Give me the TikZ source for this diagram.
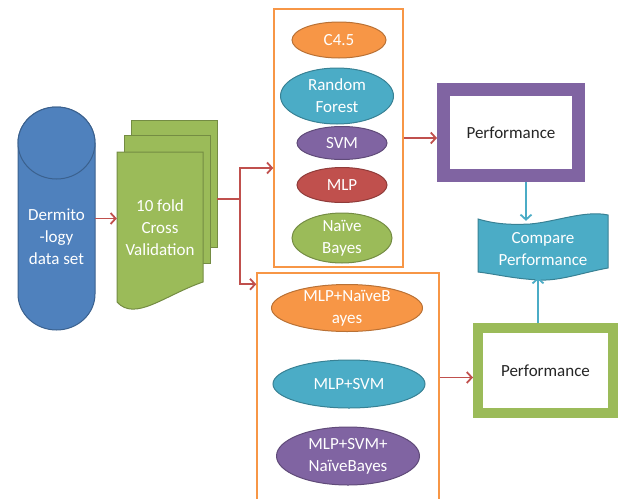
\documentclass[tikz,border=0pt]{standalone}
\usepackage{fontspec}
\setmainfont{Carlito}
\usetikzlibrary{shapes.geometric,arrows.meta}
\definecolor{offblue}{HTML}{4F81BD}
\definecolor{offgreen}{HTML}{9BBB59}
\definecolor{offorange}{HTML}{F79646}
\definecolor{offteal}{HTML}{4BACC6}
\definecolor{offpurple}{HTML}{8064A2}
\definecolor{offred}{HTML}{C0504D}
\definecolor{txtgray}{HTML}{262626}
\begin{document}
\begin{tikzpicture}[x=1pt,y=-1pt,
	txt/.style={text=white,align=center,font=\fontsize{17}{22}\selectfont},
	pg/.style={fill=#1,draw=#1!75!black,line width=1pt},
	algo/.style={ellipse,pg=#1,inner xsep=0pt,inner ysep=-4pt,txt},
	perfbox/.style={draw=#1,fill=white,minimum width=135,text=txtgray,font=\fontsize{17}{22}\selectfont},
	redline/.style={offred,line width=1.8pt},
	redarrow/.style={redline,-{Straight Barb[length=5pt,width=11pt]}},
	tealarrow/.style={offteal,line width=1.8pt,-{Straight Barb[length=5pt,width=11pt]}}]
	\useasboundingbox (0,0) rectangle (618,498);
	\clip (0,0) rectangle (618,498);
	% data set
	\draw[pg=offblue] (18,143) -- (18,294) arc[start angle=180,end angle=0,x radius=38.5,y radius=36] -- (95,143) arc[start angle=0,end angle=-180,x radius=38.5,y radius=36] -- cycle;
	\draw[pg=offblue] (56.5,143) ellipse[x radius=38.5,y radius=36];
	\node[minimum width=77,minimum height=151] (db) at (56.5,218.5) {};
	\node[txt] (dbtxt) at (56.5,237) {Dermito\\-logy\\data set};
	% folds
	\draw[pg=offgreen] (131,120) rectangle (217,247);
	\draw[pg=offgreen] (124,135) rectangle (210,263);
	\draw[pg=offgreen] (117,152) -- (203,152) -- (203,282) .. controls (165,295) and (135,322) .. (117,302) -- cycle;
	\node[minimum width=100,minimum height=158] (cv) at (167,199) {};
	\node[txt] (cvtxt) at (160,228) {10 fold\\Cross\\Validation};
	% classifiers
	\node[draw=offorange,line width=1.5pt,minimum width=129,minimum height=258] (topbox) at (338.5,138) {};
	\node[algo=offorange,minimum width=94,minimum height=36] (c45) at (339,40) {C4.5};
	\node[algo=offteal,minimum width=113,minimum height=56] (rf) at (337,96) {Random\\Forest};
	\node[algo=offpurple,minimum width=90,minimum height=33] (svm) at (342,143) {SVM};
	\node[algo=offred,minimum width=90,minimum height=35] (mlp) at (342,185) {MLP};
	\node[algo=offgreen,minimum width=100,minimum height=50] (nb) at (342,238) {Naïve\\Bayes};
	% hybrids
	\node[draw=offorange,line width=1.5pt,minimum width=182,minimum height=254] (botbox) at (348,400) {};
	\node[algo=offorange,minimum width=151,minimum height=47] (mlpnb) at (347,308) {MLP+NaïveB\\ayes};
	\node[algo=offteal,minimum width=152,minimum height=48] (mlpsvm) at (349,384) {MLP+SVM};
	\node[algo=offpurple,minimum width=143,minimum height=58] (mlpall) at (348,456) {MLP+SVM+\\NaïveBayes};
	% results
	\node[perfbox=offpurple,line width=13pt,minimum height=86] (perfA) at (511,132.5) {Performance};
	\node[perfbox=offgreen,line width=10pt,minimum height=85] (perfB) at (545.5,370.5) {Performance};
	\draw[pg=offteal] (478,219) .. controls (495,224) and (510,225) .. (530,224) .. controls (555,222) and (585,210) .. (608,215) -- (608,268) .. controls (585,272) and (560,281) .. (540,280) .. controls (515,279) and (495,274) .. (478,272) -- cycle;
	\node[txt,minimum width=130,minimum height=56] (cmp) at (543,249) {Compare\\Performance};
	% connectors
	\draw[redarrow] (db.east) -- (db.east -| cv.west);
	\draw[redline] (cv.east) -- ++(23,0) coordinate (split);
	\draw[redarrow] (split) |- ([yshift=-30pt]topbox.west);
	\draw[redarrow] (split) |- ([yshift=-12pt]botbox.north west);
	\draw[redarrow] (topbox.east) -- (topbox.east -| perfA.west);
	\coordinate (inB) at ([yshift=-7pt]perfB.west);
	\draw[redarrow] (inB -| botbox.east) -- (inB);
	\coordinate (outA) at ([xshift=15pt]perfA.south);
	\draw[tealarrow] (outA) -- (outA |- cmp.north);
	\coordinate (outB) at ([xshift=-7.5pt]perfB.north);
	\draw[tealarrow] (outB) -- (outB |- cmp.south);
\end{tikzpicture}
\end{document}
